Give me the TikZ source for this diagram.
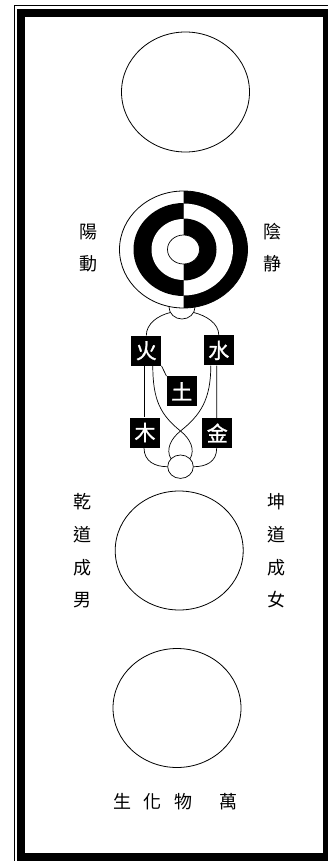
\documentclass[tikz,border=0pt]{standalone}
\usepackage{fontspec}
\newfontfamily\cjk{Noto Sans CJK TC}
\newfontfamily\cjkbox[FakeBold=1.2]{Noto Sans CJK TC}
\usetikzlibrary{calc,shapes.geometric}
\begin{document}
\begin{tikzpicture}[x=1pt,y=-1pt,
  elem/.style={fill=black,text=white,minimum width=30pt,minimum height=30pt,inner sep=0pt,font=\cjkbox\fontsize{21}{21}\selectfont},
  lab/.style={font=\cjk\fontsize{18}{18}\selectfont,inner sep=0pt},
  ln/.style={line width=0.7pt},
  bigc/.style={line width=0.8pt},
  smallc/.style={draw,ellipse,line width=0.7pt,fill=white,inner sep=0pt}]
\useasboundingbox (0,0) rectangle (328,861);
\fill[white] (0,0) rectangle (328,861);
% frame
\fill[black] (17,9) rectangle (340,870);
\fill[white] (25,17) rectangle (323,853);
\draw[line width=1pt] (14.5,870) -- (14.5,5.5) -- (340,5.5);
% top circle
\draw[bigc] (185.5,92) ellipse [x radius=64pt,y radius=60pt];
% small circle under taiji
\node[smallc,minimum width=26pt,minimum height=24pt] (topc) at (182,307) {};
% taiji
\coordinate (C) at (183.5,249.5);
\begin{scope}
  \fill[white] (C) ellipse [x radius=64pt,y radius=58.5pt];
  \clip (183.5,150) rectangle (260,330);
  \fill[black] (C) ellipse [x radius=64pt,y radius=58.5pt];
  \fill[white] (C) ellipse [x radius=49.5pt,y radius=46pt];
  \fill[black] (C) ellipse [x radius=33pt,y radius=31pt];
\end{scope}
\begin{scope}
  \clip (100,150) rectangle (183.5,330);
  \fill[black] (C) ellipse [x radius=50pt,y radius=46.5pt];
  \fill[white] (C) ellipse [x radius=32pt,y radius=30.5pt];
\end{scope}
\draw[bigc] (C) ellipse [x radius=64pt,y radius=58.5pt];
\node[draw,ellipse,fill=white,line width=0.7pt,inner sep=0pt,minimum width=32pt,minimum height=29pt] (inner) at (C) {};
% five elements
\node[elem] (fire)  at (146.3,350.7) {火};
\node[elem] (water) at (218.8,350.4) {水};
\node[elem] (earth) at (181.7,391.3) {土};
\node[elem] (wood)  at (145,432.5) {木};
\node[elem] (metal) at (217.3,433) {金};
\node[smallc,minimum width=25.6pt,minimum height=23.4pt] (bc) at (180.5,466.7) {};
\coordinate (X) at (180.5,431);
% connectors
\draw[ln] (topc.205) .. controls +(-12,3) and +(0,-12) .. (fire.north);
\draw[ln] (topc.-25) .. controls +(12,3) and +(0,-12) .. (water.north);
\draw[ln] ([xshift=-2pt]fire.south) -- ([xshift=-0.7pt]wood.north);
\draw[ln] ([xshift=-2pt]water.south) -- ([xshift=-0.6pt]metal.north);
\draw[ln] (fire.south east) -- (earth.north west);
\draw[ln] ([xshift=6.5pt]fire.south) .. controls +(0,34) and +(-20,-16) .. (X)
          .. controls +(10,8) and +(5,-9) .. (bc.40);
\draw[ln] ([xshift=-8pt]water.south) .. controls +(0,34) and +(20,-16) .. (X)
          .. controls +(-10,8) and +(-5,-9) .. (bc.140);
\draw[ln] ([xshift=-1pt]wood.south) .. controls +(0,14) and +(-12,0) .. (bc.180);
\draw[ln] ([xshift=-0.6pt]metal.south) .. controls +(0,14) and +(12,0) .. (bc.0);
% lower circles
\draw[bigc] (179.2,550.5) ellipse [x radius=64pt,y radius=59.5pt];
\draw[bigc] (177,708) ellipse [x radius=64pt,y radius=59.5pt];
% labels
\node[lab] (yang) at (88,232) {陽};
\node[lab] (dong) at (88,264) {動};
\node[lab] (yin)  at (272,232) {陰};
\node[lab] (jing) at (272,264) {静};
\node[lab] (q1) at (82.5,502) {乾};
\node[lab] (q2) at (82.5,535) {道};
\node[lab] (q3) at (82.5,568) {成};
\node[lab] (q4) at (82.5,600) {男};
\node[lab] (k1) at (276,502) {坤};
\node[lab] (k2) at (276,535) {道};
\node[lab] (k3) at (276,568) {成};
\node[lab] (k4) at (276,600) {女};
\node[lab] (w1) at (122.5,801.7) {生};
\node[lab] (w2) at (152.5,801.7) {化};
\node[lab] (w3) at (183,801.7) {物};
\node[lab] (w4) at (228,801.7) {萬};
\end{tikzpicture}
\end{document}
